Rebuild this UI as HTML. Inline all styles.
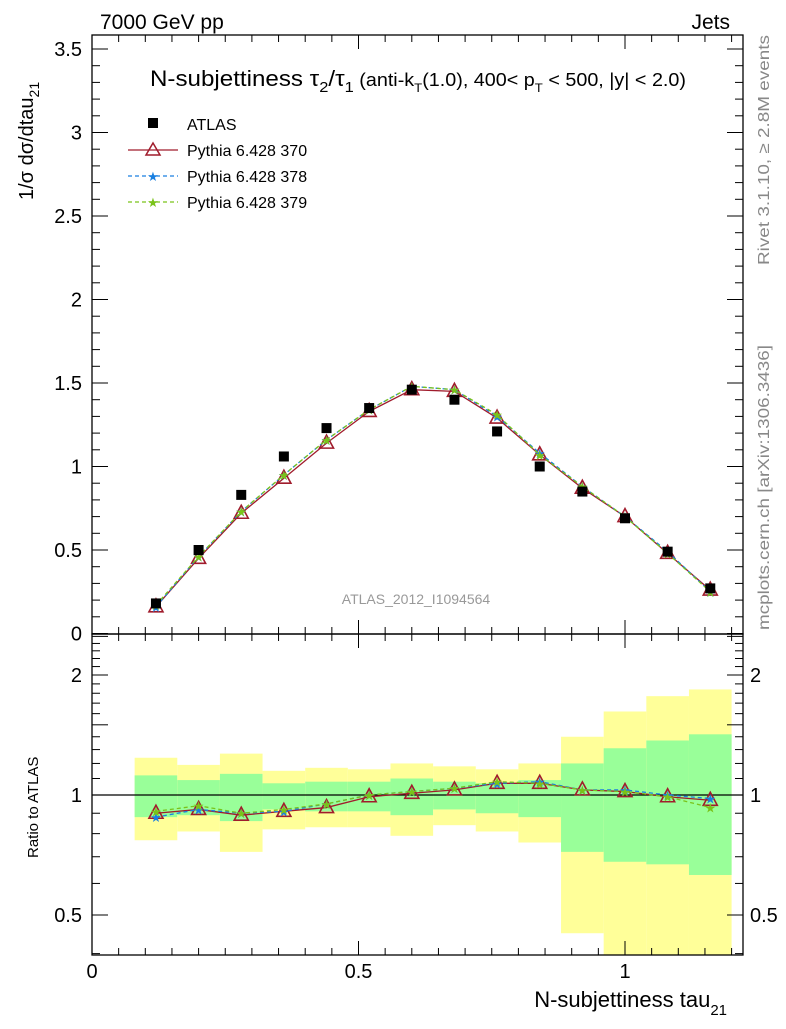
<!DOCTYPE html>
<html><head><meta charset="utf-8"><style>
body{margin:0;background:#fff}
svg text{font-family:"Liberation Sans",sans-serif}
</style></head><body>
<svg id="c" width="786" height="1024" viewBox="0 0 786 1024" xmlns="http://www.w3.org/2000/svg">
<text x="100" y="29" font-size="21">7000 GeV pp</text>
<text x="730" y="29" font-size="21" text-anchor="end">Jets</text>
<text x="150" y="86" font-size="22" textLength="536" lengthAdjust="spacingAndGlyphs">N-subjettiness τ<tspan font-size="15" dy="6">2</tspan><tspan dy="-6">/τ</tspan><tspan font-size="15" dy="6">1</tspan><tspan dy="-6" font-size="18"> (anti-k</tspan><tspan font-size="12" dy="6">T</tspan><tspan dy="-6" font-size="18">(1.0), 400&lt; p</tspan><tspan font-size="12" dy="6">T</tspan><tspan dy="-6" font-size="18"> &lt; 500, |y| &lt; 2.0)</tspan></text>
<text transform="translate(769,265) rotate(-90)" font-size="16" fill="#888" textLength="230" lengthAdjust="spacingAndGlyphs">Rivet 3.1.10, ≥ 2.8M events</text>
<text transform="translate(769,630) rotate(-90)" font-size="16" fill="#888" textLength="285" lengthAdjust="spacingAndGlyphs">mcplots.cern.ch [arXiv:1306.3436]</text>
<text x="416" y="604" font-size="14" fill="#999" text-anchor="middle">ATLAS_2012_I1094564</text>
<text transform="translate(33,200) rotate(-90)" font-size="20">1/σ dσ/dtau<tspan font-size="14" dy="6">21</tspan></text>
<text transform="translate(38,858) rotate(-90)" font-size="15">Ratio to ATLAS</text>
<text x="727" y="1007" font-size="22" text-anchor="end">N-subjettiness tau<tspan font-size="15" dy="8">21</tspan></text>
<g id="legend">
<rect x="148" y="118" width="10" height="10" fill="#000"/>
<text x="187" y="130" font-size="16">ATLAS</text>
<line x1="128" y1="150" x2="178" y2="150" stroke="#a01c2c" stroke-width="1.3"/>
<path d="M153,143 L160,155 L146,155 Z" fill="none" stroke="#a01c2c" stroke-width="1.5"/>
<text x="187" y="156" font-size="16">Pythia 6.428 370</text>
<line x1="128" y1="176" x2="178" y2="176" stroke="#1a7fe0" stroke-width="1.3" stroke-dasharray="4,3"/>
<text x="153" y="181" font-size="13" fill="#1a7fe0" text-anchor="middle">★</text>
<text x="187" y="182" font-size="16">Pythia 6.428 378</text>
<line x1="128" y1="202" x2="178" y2="202" stroke="#7ac31a" stroke-width="1.3" stroke-dasharray="4,3"/>
<text x="153" y="207" font-size="13" fill="#7ac31a" text-anchor="middle">★</text>
<text x="187" y="208" font-size="16">Pythia 6.428 379</text>
</g>
</svg>
<script>
const xCenters=[0.12,0.2,0.28,0.36,0.44,0.52,0.6,0.68,0.76,0.84,0.92,1.0,1.08,1.16];
const binEdges=[0.08,0.16,0.24,0.32,0.40,0.48,0.56,0.64,0.72,0.80,0.88,0.96,1.04,1.12,1.20];
const atlas=[0.18,0.50,0.83,1.06,1.23,1.35,1.46,1.40,1.21,1.00,0.85,0.69,0.49,0.27];
const mc370=[0.16,0.45,0.72,0.93,1.14,1.33,1.46,1.45,1.29,1.07,0.87,0.70,0.48,0.26];
const mc378=[0.16,0.46,0.73,0.95,1.16,1.34,1.48,1.46,1.30,1.08,0.88,0.70,0.49,0.25];
const mc379=[0.17,0.46,0.73,0.95,1.16,1.34,1.48,1.46,1.31,1.07,0.88,0.70,0.48,0.25];
const r370=[0.90,0.92,0.89,0.91,0.93,0.99,1.01,1.03,1.07,1.07,1.03,1.02,0.99,0.97];
const r378=[0.88,0.92,0.90,0.91,0.95,1.00,1.02,1.04,1.07,1.08,1.03,1.03,1.00,0.98];
const r379=[0.91,0.94,0.90,0.92,0.95,1.00,1.02,1.04,1.08,1.07,1.03,1.02,0.99,0.93];
const yelTop=[1.24,1.19,1.27,1.15,1.17,1.16,1.20,1.18,1.16,1.20,1.40,1.62,1.77,1.84];
const grnTop=[1.12,1.09,1.13,1.07,1.08,1.08,1.10,1.08,1.07,1.09,1.20,1.31,1.37,1.42];
const grnBot=[0.88,0.89,0.86,0.92,0.91,0.91,0.89,0.92,0.90,0.88,0.72,0.68,0.67,0.63];
const yelBot=[0.77,0.81,0.72,0.82,0.83,0.83,0.79,0.84,0.81,0.76,0.45,0.36,0.36,0.36];
const mainYTicks=["0","0.5","1","1.5","2","2.5","3","3.5"];
const xTickLabels=["0","0.5","1"];
const ratioTicks=["0.5","1","2"];

const NS="http://www.w3.org/2000/svg";
const svg=document.getElementById('c');
const L=92,R=743,T=35,MB=634,RB=955;
const X=v=>L+v*533;
const Y=v=>633.5-v*167;
const RY=v=>Math.min(RB,Math.max(MB,795-398.6*Math.log10(v)));
function mk(t,a,p){const e=document.createElementNS(NS,t);for(const k in a)e.setAttribute(k,a[k]);(p||svg).appendChild(e);return e;}

const bands=mk('g',{});


for(let i=0;i<xCenters.length;i++){
  const x0=X(binEdges[i]),x1=X(binEdges[i+1]);
  const y=mk('rect',{x:x0,y:RY(yelTop[i]),width:x1-x0,height:RY(yelBot[i])-RY(yelTop[i]),fill:'#ffff99'},bands);
  
  
  const g=mk('rect',{x:x0,y:RY(grnTop[i]),width:x1-x0,height:RY(grnBot[i])-RY(grnTop[i]),fill:'#99ff99'},bands);
  
  
}
mk('line',{x1:L,x2:R,y1:RY(1),y2:RY(1),stroke:'#000','stroke-width':1.3});

const f1=mk('rect',{x:L,y:T,width:R-L,height:MB-T,fill:'none',stroke:'#000','stroke-width':1.3});


const f2=mk('rect',{x:L,y:MB,width:R-L,height:RB-MB,fill:'none',stroke:'#000','stroke-width':1.3});



for(let k=0;k<=24;k++){
  const v=k*0.05,x=X(v);if(x>R)break;
  const len=(k%10==0)?14:7;
  [[T,1],[MB,-1],[MB,1],[RB,-1]].forEach(([y0,d])=>mk('line',{x1:x,x2:x,y1:y0,y2:y0+d*len,stroke:'#000'}));
}
xTickLabels.forEach((s,i)=>{
  const t=mk('text',{x:X(i*0.5),y:978,'font-size':20,'text-anchor':'middle'});t.textContent=s;
  
  
});
for(let k=0;k<=35;k++){
  const v=k*0.1,y=Y(v);if(y<T)break;
  const len=(k%5==0)?16:8;
  mk('line',{x1:L,x2:L+len,y1:y,y2:y,stroke:'#000'});
  mk('line',{x1:R,x2:R-len,y1:y,y2:y,stroke:'#000'});
}
mainYTicks.forEach((s,i)=>{
  const t=mk('text',{x:82,y:Y(i*0.5)+7,'font-size':20,'text-anchor':'end'});t.textContent=s;
  
  
});
for(let k=4;k<=25;k++){
  const v=k/10,y=RY(v);if(y<=MB||y>=RB)continue;
  const len=(k%5==0)?16:8;
  mk('line',{x1:L,x2:L+len,y1:y,y2:y,stroke:'#000'});
  mk('line',{x1:R,x2:R-len,y1:y,y2:y,stroke:'#000'});
}
ratioTicks.forEach(s=>{
  const v=parseFloat(s);
  const t=mk('text',{x:82,y:RY(v)+7,'font-size':20,'text-anchor':'end'});t.textContent=s;
  
  
  const t2=mk('text',{x:750,y:RY(v)+7,'font-size':20});t2.textContent=s;
  
  
});

function series(vals,yf,color,dash,marker,name){
  const g=mk('g',{});
  
  
  const pts=vals.map((v,i)=>X(xCenters[i])+','+yf(v)).join(' ');
  const a={points:pts,fill:'none',stroke:color,'stroke-width':1.3};
  if(dash)a['stroke-dasharray']=dash;
  mk('polyline',a,g);
  vals.forEach((v,i)=>{
    const x=X(xCenters[i]),y=yf(v);
    if(marker=='tri') mk('path',{d:`M${x},${y-8} L${x+7},${y+5} L${x-7},${y+5} Z`,fill:'none',stroke:color,'stroke-width':1.6},g);
    else {const t=mk('text',{x:x,y:y+5,'font-size':13,fill:color,'text-anchor':'middle'},g);t.textContent='★';}
  });
}
series(mc370,Y,'#a01c2c',null,'tri','mc370-line');
series(mc378,Y,'#1a7fe0','4,3','star','mc378-line');
series(mc379,Y,'#7ac31a','4,3','star','mc379-line');
const ag=mk('g',{});


atlas.forEach((v,i)=>{
  const r=mk('rect',{x:X(xCenters[i])-5,y:Y(v)-5,width:10,height:10,fill:'#000'},ag);
  
  
});
series(r370,RY,'#a01c2c',null,'tri','ratio-370');
series(r378,RY,'#1a7fe0','4,3','star','ratio-378');
series(r379,RY,'#7ac31a','4,3','star','ratio-379');
</script>
</body></html>
